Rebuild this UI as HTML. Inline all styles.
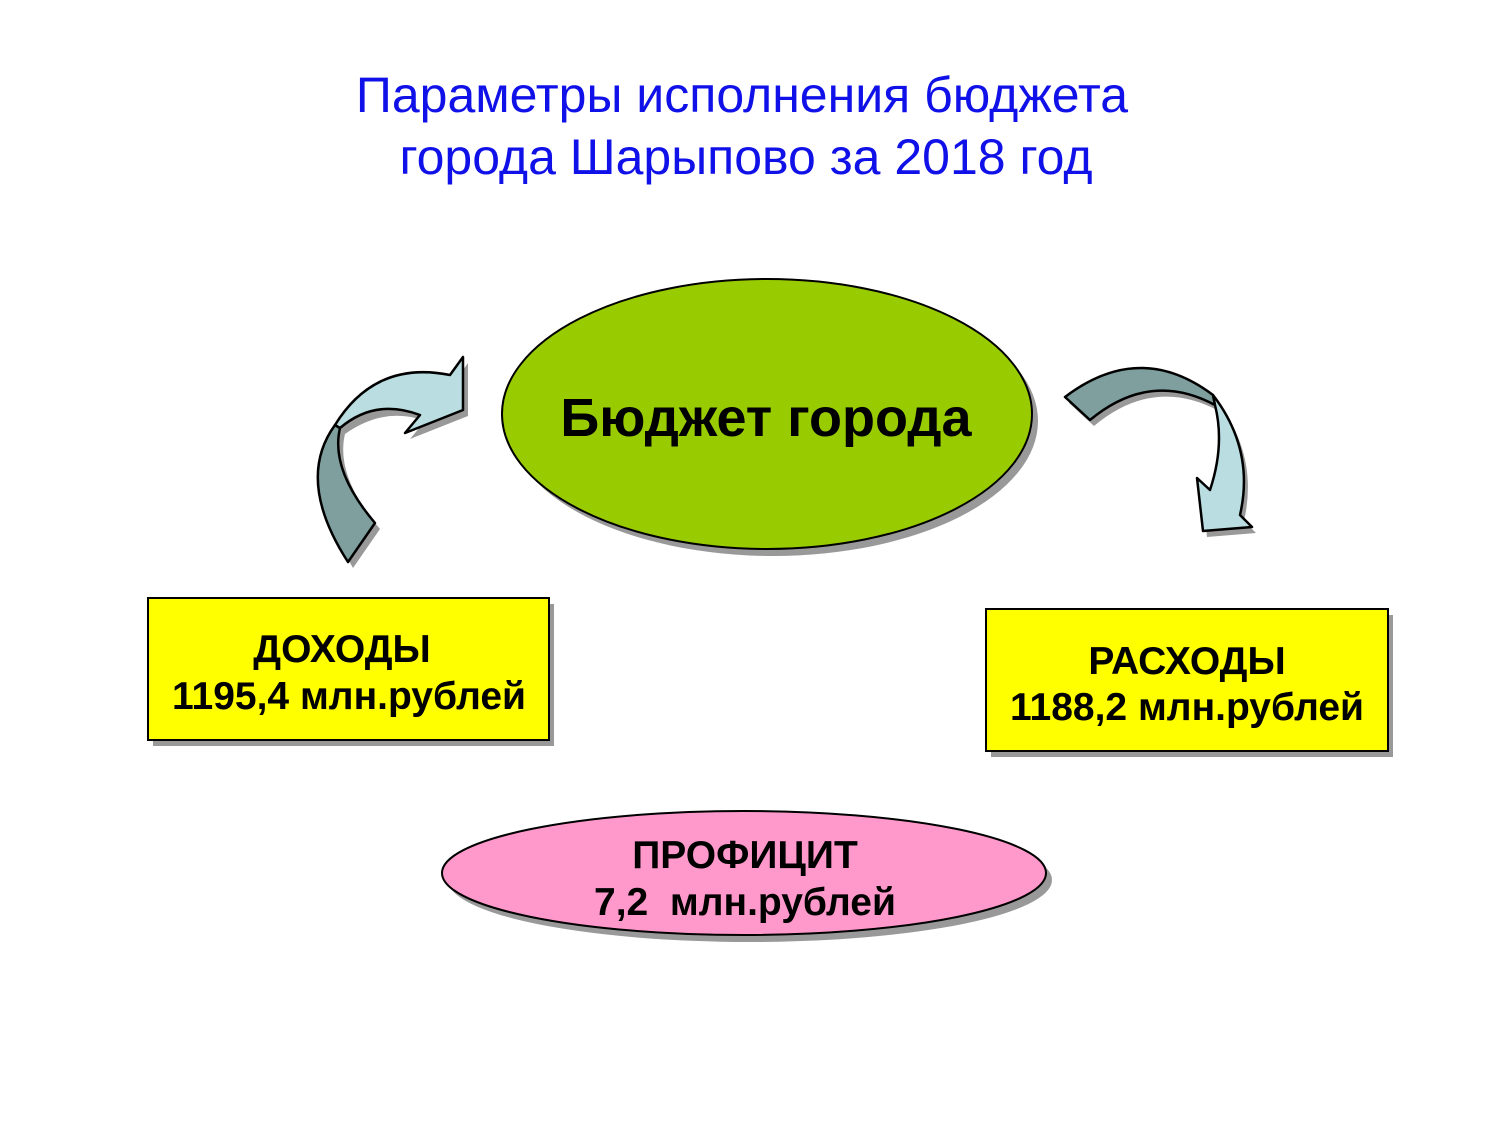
<!DOCTYPE html>
<html><head><meta charset="utf-8"><style>
body{margin:0;background:#fff;}
svg{display:block;}
text{font-family:"Liberation Sans",sans-serif;}
</style></head><body>
<svg width="1500" height="1125" viewBox="0 0 1500 1125">
<text x="742" y="112" font-size="50" fill="#1010e8" text-anchor="middle">Параметры исполнения бюджета</text>
<text x="746" y="174" font-size="50" fill="#1010e8" text-anchor="middle">города Шарыпово за 2018 год</text>

<ellipse cx="773" cy="421" rx="265" ry="135" fill="#999"/>
<ellipse cx="767" cy="414" rx="265" ry="135" fill="#99cc00" stroke="#000" stroke-width="2"/>
<text x="766" y="436" font-size="54" font-weight="bold" fill="#000" text-anchor="middle">Бюджет города</text>

<g transform="translate(5,6)" fill="#999">
<path d="M348,562 Q300,480 335,425 L340,428 Q330,470 375,523 Z"/>
<path d="M335,425 Q370,360 450,375 L463,357 L463,410 L405,433 L420,415 Q380,400 340,428 Z"/>
</g>
<path d="M348,562 Q295,480 335,425 L340,428 Q330,470 375,523 Z" fill="#7f9f9f" stroke="#000" stroke-width="2.5" stroke-linejoin="round"/>
<path d="M335,425 Q375,360 450,375 L463,357 L463,410 L405,433 L420,415 Q375,398 340,428 Z" fill="#b9dde0" stroke="#000" stroke-width="2.5" stroke-linejoin="round"/>

<g transform="translate(4,6)" fill="#999">
<path d="M1065,397 Q1140,340 1213,395 L1215,405 Q1150,370 1090,420 Z"/>
<path d="M1213,395 Q1255,450 1240,515 L1252,527 L1203,531 L1197,478 L1210,490 Q1225,445 1215,405 Z"/>
</g>
<path d="M1065,397 Q1140,340 1213,395 L1215,405 Q1150,370 1090,420 Z" fill="#7f9f9f" stroke="#000" stroke-width="2.5" stroke-linejoin="round"/>
<path d="M1213,395 Q1255,450 1240,515 L1252,527 L1203,531 L1197,478 L1210,490 Q1225,445 1215,405 Z" fill="#b9dde0" stroke="#000" stroke-width="2.5" stroke-linejoin="round"/>

<rect x="153" y="604" width="401" height="142" fill="#999"/>
<rect x="148" y="598" width="401" height="142" fill="#ffff00" stroke="#000" stroke-width="2"/>
<text x="342" y="662" font-size="39" font-weight="bold" text-anchor="middle">ДОХОДЫ</text>
<text x="349" y="709" font-size="39" font-weight="bold" text-anchor="middle">1195,4 млн.рублей</text>

<rect x="991" y="615" width="402" height="142" fill="#999"/>
<rect x="986" y="609" width="402" height="142" fill="#ffff00" stroke="#000" stroke-width="2"/>
<text x="1187" y="674" font-size="39" font-weight="bold" text-anchor="middle">РАСХОДЫ</text>
<text x="1187" y="720" font-size="39" font-weight="bold" text-anchor="middle">1188,2 млн.рублей</text>

<ellipse cx="750" cy="880" rx="302" ry="62" fill="#999"/>
<ellipse cx="744" cy="873" rx="302" ry="62" fill="#ff99cc" stroke="#000" stroke-width="2"/>
<text x="745" y="868" font-size="39" font-weight="bold" text-anchor="middle">ПРОФИЦИТ</text>
<text x="745" y="915" font-size="39" font-weight="bold" text-anchor="middle" xml:space="preserve">7,2  млн.рублей</text>
</svg>
</body></html>
